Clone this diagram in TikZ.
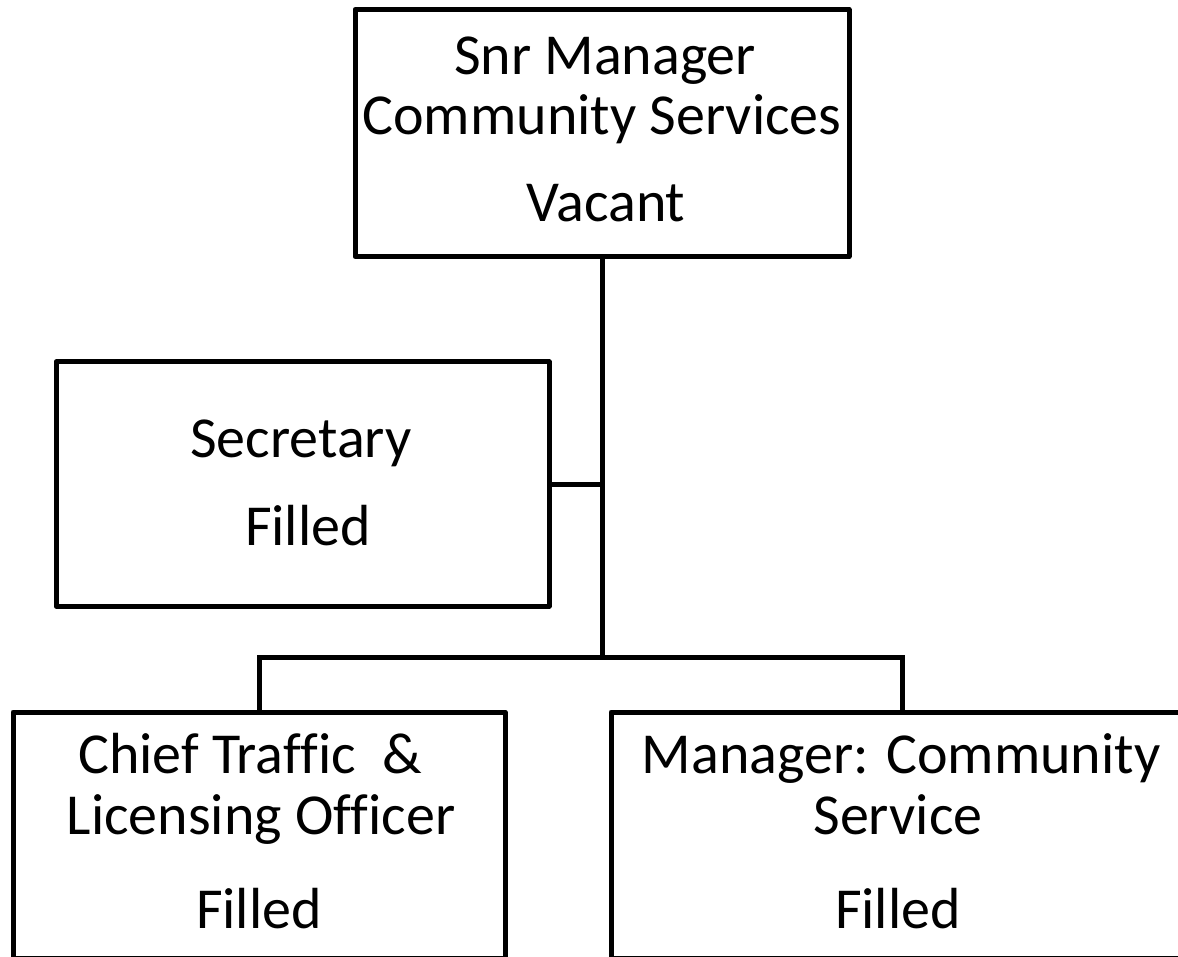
\documentclass[tikz,border=0pt]{standalone}
\usepackage{fontspec}
\setmainfont{Carlito}[Ligatures=NoCommon]
\begin{document}
\begin{tikzpicture}[x=1pt,y=-1pt,
  box/.style={draw=black, line width=5pt, rectangle, inner sep=0pt, outer sep=0pt, line join=round},
  lbl/.style={anchor=base, inner sep=0pt, font=\fontsize{58}{60}\selectfont},
  conn/.style={draw=black, line width=5pt}]
\useasboundingbox (0,0) rectangle (1178,957);
\clip (0,0) rectangle (1178,957);
% boxes
\node[box, minimum width=494pt, minimum height=247pt] (top) at (602,133) {};
\node[box, minimum width=493pt, minimum height=244pt] (sec) at (302.5,484) {};
\node[box, minimum width=492pt, minimum height=246pt] (chief) at (259,835) {};
\node[box, minimum width=582pt, minimum height=246pt] (mgr) at (902,835) {};
% texts
\node[lbl] (t1) at (605,75) {Snr Manager};
\node[lbl] (t2) at (602,135) {Community Services};
\node[lbl] (t3) at (606,222) {Vacant};
\node[lbl] (s1) at (301,457) {Secretary};
\node[lbl] (s2) at (308,545) {Filled};
\node[lbl] (c1) at (250,773) {Chief Traffic\ \ \&};
\node[lbl] (c2) at (261,834) {Licensing Officer};
\node[lbl] (c3) at (259,928) {Filled};
\node[lbl] (m1) at (901,773) {Manager: Community};
\node[lbl] (m2) at (898,834) {Service};
\node[lbl] (m3) at (898,928) {Filled};
% connectors
\coordinate (bar) at (602,657);
\draw[conn] (top.south) -- (bar);
\draw[conn] (sec.east) -- (top.south |- sec.east);
\draw[conn, line join=miter] (chief.north) -- (chief.north |- bar) -- (mgr.north |- bar) -- (mgr.north);
\end{tikzpicture}
\end{document}
